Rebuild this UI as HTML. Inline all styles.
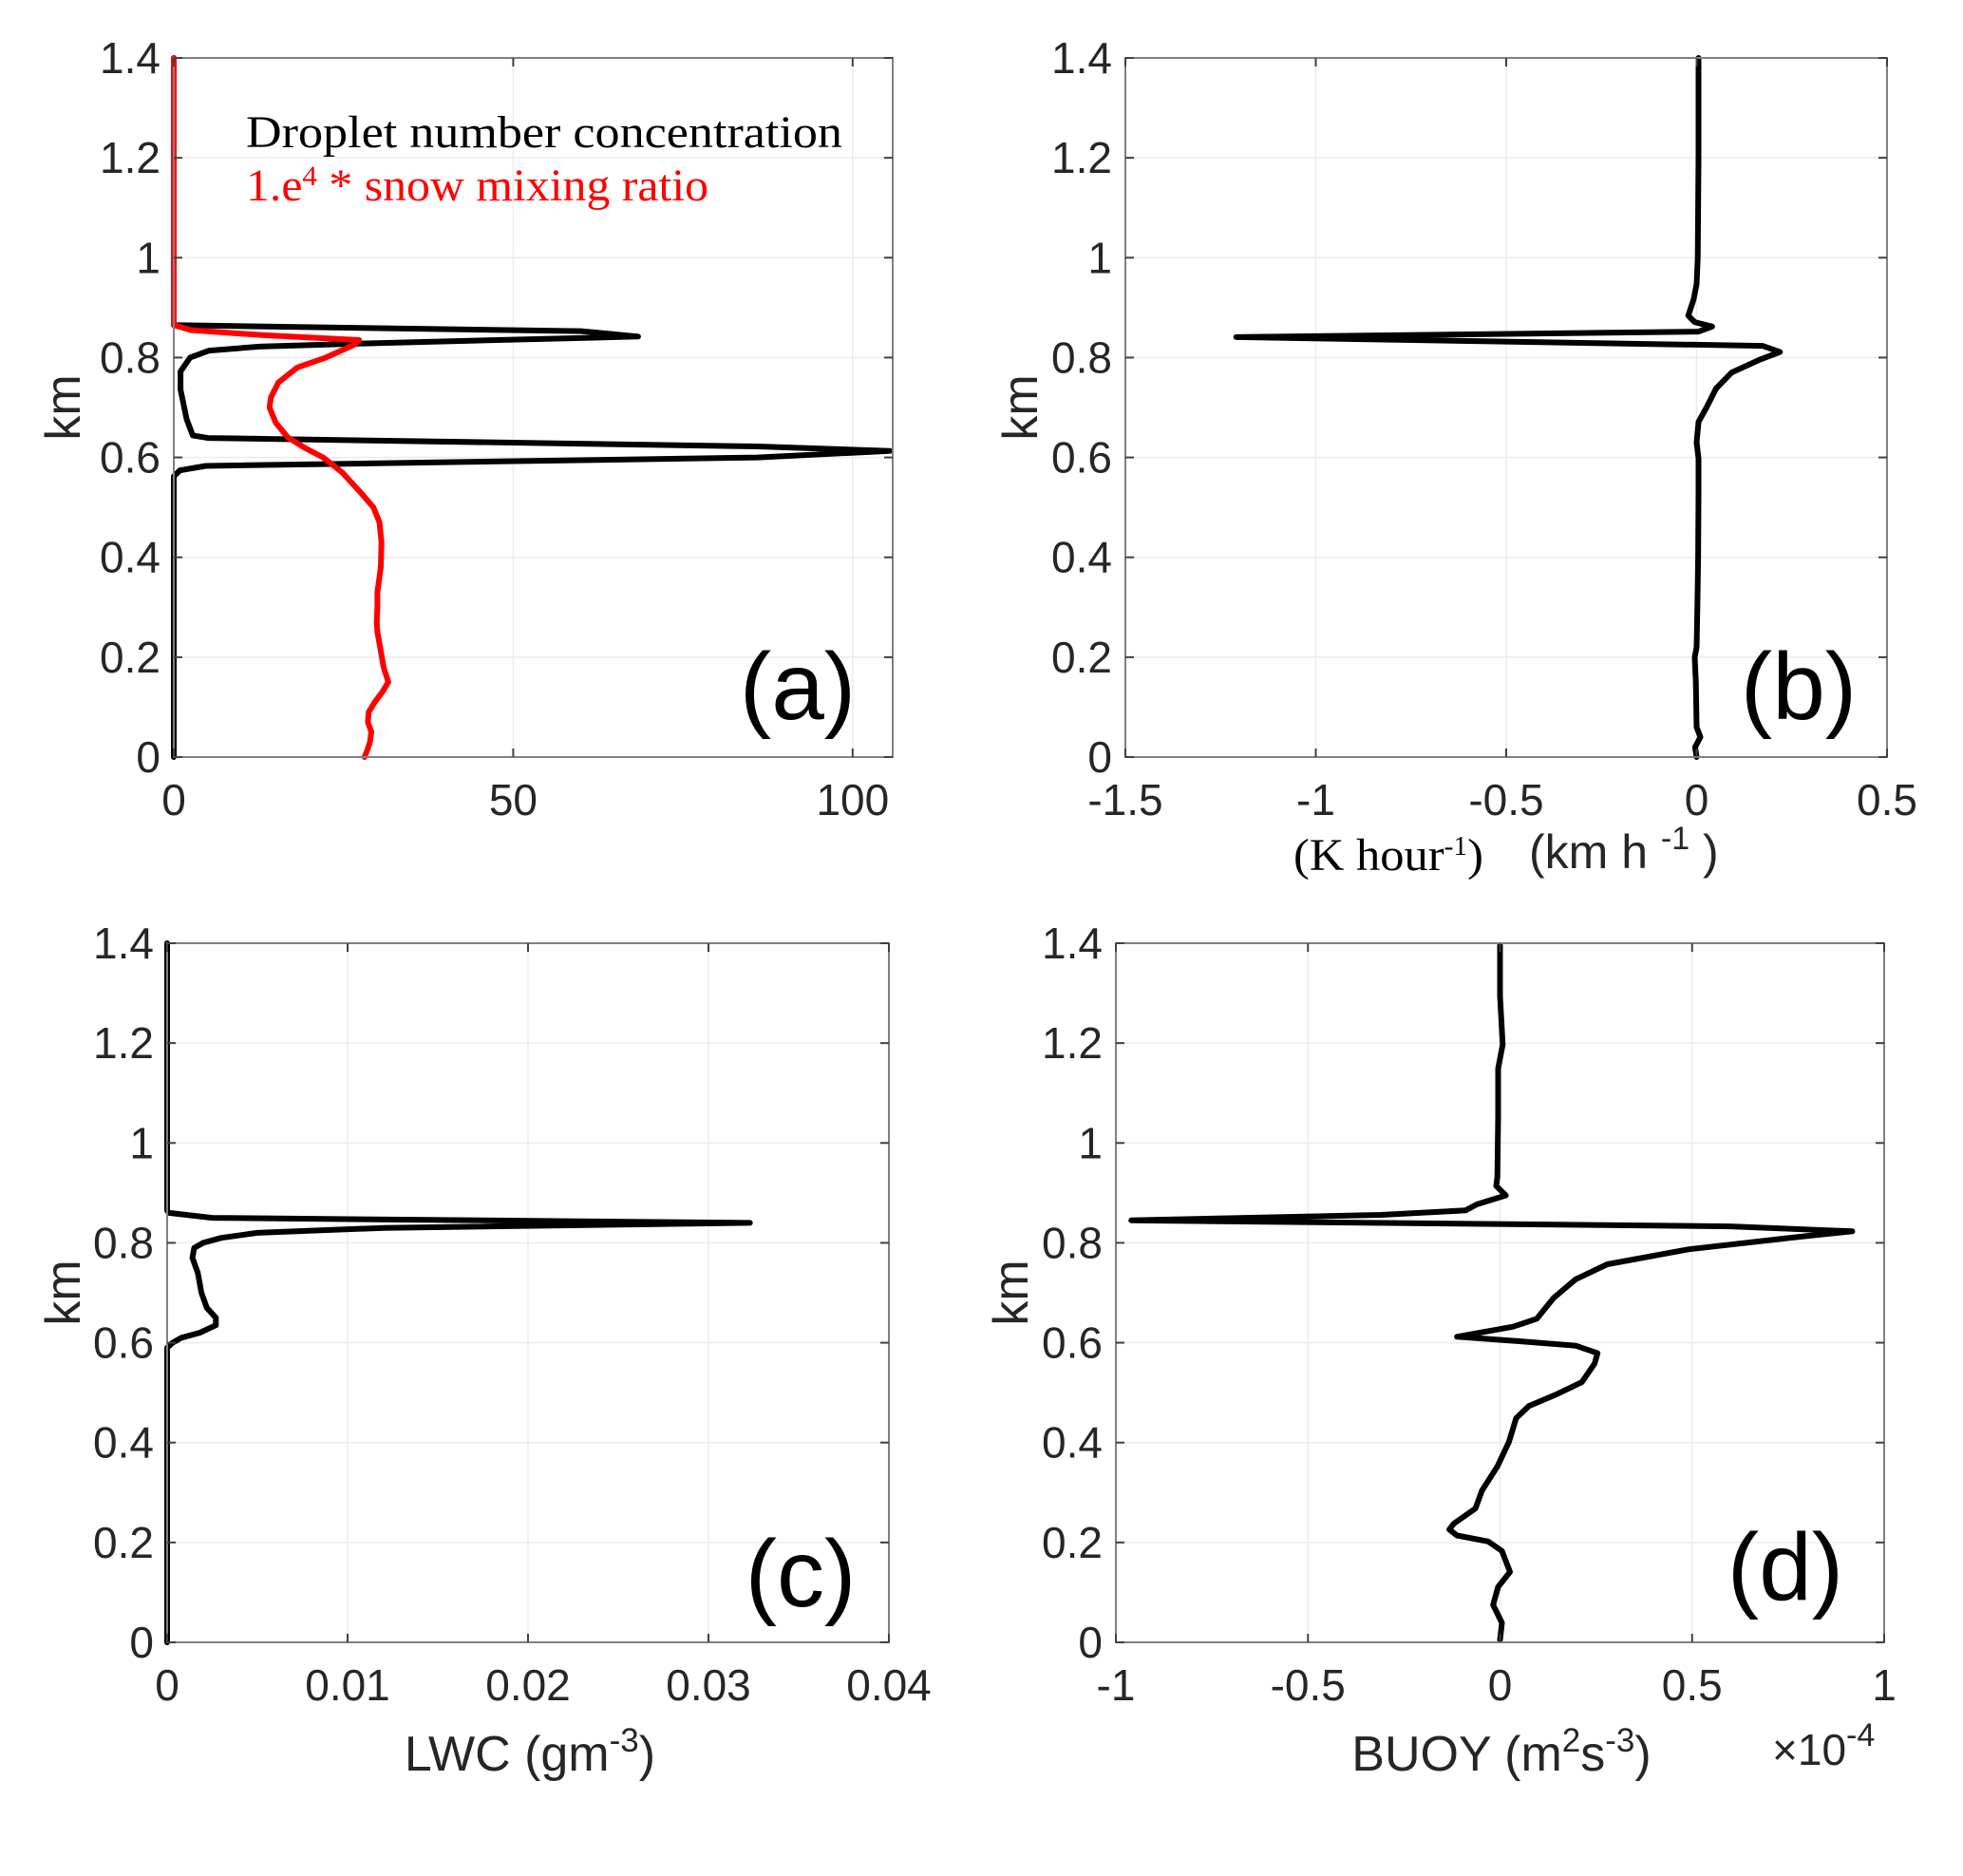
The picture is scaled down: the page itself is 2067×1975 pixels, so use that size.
<!DOCTYPE html>
<html><head><meta charset="utf-8"><style>
html,body{margin:0;padding:0;background:#fff;}
svg{display:block;}
text{font-family:"Liberation Sans",sans-serif;fill:#262626;}
.serif{font-family:"Liberation Serif",serif;}
</style></head><body>
<svg id="fig" width="2067" height="1975" viewBox="0 0 2067 1975" xmlns="http://www.w3.org/2000/svg"></svg>
<script>
// ---- Data ----
const yTicks = [0, 0.2, 0.4, 0.6, 0.8, 1, 1.2, 1.4];
const yTickLabels = ["0","0.2","0.4","0.6","0.8","1","1.2","1.4"];
// Panel a
const aXTicks = [0, 50, 100];
const aXTickLabels = ["0","50","100"];
const dropY = [1.4,0.865,0.853,0.842,0.829,0.822,0.814,0.80,0.772,0.736,0.676,0.644,0.639,0.622,0.613,0.60,0.583,0.574,0.562,0];
const dropX = [0,0,60,68.4,30,12.6,5.2,2.4,1,1,1.9,2.8,5,86,105.5,86,4.7,0.9,0,0];
const snowY = [1.4,0.865,0.855,0.845,0.835,0.825,0.80,0.78,0.75,0.72,0.70,0.67,0.64,0.62,0.60,0.57,0.53,0.50,0.47,0.43,0.38,0.33,0.30,0.27,0.25,0.22,0.18,0.15,0.13,0.11,0.09,0.07,0.05,0.03,0.01,0];
const snowX = [0,0,2.5,13,27.3,26.5,22.4,18.2,15.4,14.3,14.1,15,16.8,19.2,22,24.8,27.5,29.4,30.3,30.6,30.5,30,30,29.9,30,30.4,30.9,31.6,30.7,29.6,28.7,28.6,29.1,28.9,28.4,28.1];
// Panel b
const bXTicks = [-1.5,-1,-0.5,0,0.5];
const bXTickLabels = ["-1.5","-1","-0.5","0","0.5"];
const bY = [1.4,1.2,1.0,0.947,0.916,0.884,0.871,0.862,0.852,0.841,0.8235,0.811,0.795,0.770,0.738,0.70,0.671,0.630,0.598,0.528,0.4,0.3,0.22,0.2,0.15,0.06,0.04,0.02,0];
const bX = [0.005,0.005,0.003,0,-0.008,-0.022,-0.005,0.041,0.005,-1.209,0.173,0.219,0.163,0.092,0.051,0.026,0.005,0,0.005,0.005,0.004,0.002,0,-0.005,-0.002,0,0.01,-0.004,0];
// Panel c
const cXTicks = [0,0.01,0.02,0.03,0.04];
const cXTickLabels = ["0","0.01","0.02","0.03","0.04"];
const cY = [1.4,0.865,0.86,0.85,0.84,0.83,0.82,0.81,0.80,0.79,0.77,0.74,0.70,0.67,0.65,0.635,0.62,0.61,0.60,0.59,0];
const cX = [0,0,0.0001,0.0025,0.0323,0.012,0.005,0.003,0.002,0.0015,0.0014,0.0017,0.0019,0.0022,0.0027,0.0027,0.0018,0.0008,0.0003,0,0];
// Panel d
const dXTicks = [-1,-0.5,0,0.5,1];
const dXTickLabels = ["-1","-0.5","0","0.5","1"];
const dY = [1.396,1.294,1.197,1.149,1.052,0.932,0.914,0.895,0.877,0.865,0.856,0.845,0.833,0.823,0.811,0.787,0.757,0.727,0.690,0.648,0.632,0.612,0.603,0.594,0.579,0.558,0.521,0.497,0.473,0.449,0.401,0.352,0.304,0.268,0.238,0.226,0.214,0.202,0.183,0.141,0.111,0.075,0.039,0.005];
const dX = [0,0,0.007,-0.005,-0.005,-0.007,-0.01,0.015,-0.06,-0.09,-0.31,-0.96,0.6,0.917,0.767,0.49,0.279,0.197,0.14,0.096,0.034,-0.112,0.05,0.197,0.254,0.246,0.213,0.148,0.075,0.042,0.023,-0.007,-0.047,-0.064,-0.12,-0.132,-0.112,-0.031,0.005,0.026,-0.005,-0.018,0.005,0];

const NS = "http://www.w3.org/2000/svg";
const svg = document.getElementById('fig');
function mk(tag, attrs, parent){
  const e = document.createElementNS(NS, tag);
  for (const k in attrs) e.setAttribute(k, attrs[k]);
  (parent||svg).appendChild(e);
  return e;
}
function panel(id, L, R, T, B, xmin, xmax, xt, xtl, series, labelX){
  const g = mk('g', {});
  
  
  const sx = v => L + (v - xmin) / (xmax - xmin) * (R - L);
  const sy = v => B - v / 1.4 * (B - T);
  xt.forEach(v => { const x = sx(v); if (x > L+1 && x < R-1) { const l = mk('line',{x1:x,x2:x,y1:T,y2:B,stroke:'#ebebeb','stroke-width':1.5},g);   } });
  yTicks.forEach(v => { const y = sy(v); if (y > T+1 && y < B-1) { const l = mk('line',{x1:L,x2:R,y1:y,y2:y,stroke:'#ebebeb','stroke-width':1.5},g);   } });
  series.forEach(s => {
    const pts = s.x.map((v,i) => sx(v).toFixed(1) + ',' + sy(s.y[i]).toFixed(1)).join(' ');
    const p = mk('polyline',{points:pts,fill:'none',stroke:s.color,'stroke-width':6,'stroke-linejoin':'round','stroke-linecap':'round'},g);
    
    
  });
  const box = mk('rect',{x:L,y:T,width:R-L,height:B-T,fill:'none',stroke:'#808080','stroke-width':2},g);
  
  
  xt.forEach((v,i) => {
    const x = sx(v);
    mk('line',{x1:x,x2:x,y1:B,y2:B-9,stroke:'#404040','stroke-width':2},g);
    mk('line',{x1:x,x2:x,y1:T,y2:T+9,stroke:'#404040','stroke-width':2},g);
    const t = mk('text',{x:x,y:B+61,'font-size':46,'text-anchor':'middle'},g);
    t.textContent = xtl[i];
    
    
  });
  yTicks.forEach((v,i) => {
    const y = sy(v);
    mk('line',{x1:L,x2:L+9,y1:y,y2:y,stroke:'#404040','stroke-width':2},g);
    mk('line',{x1:R,x2:R-9,y1:y,y2:y,stroke:'#404040','stroke-width':2},g);
    const t = mk('text',{x:L-14,y:y+16,'font-size':46,'text-anchor':'end'},g);
    t.textContent = yTickLabels[i];
    
    
  });
  const km = mk('text',{x:labelX,y:(T+B)/2,'font-size':52,'text-anchor':'middle',transform:`rotate(-90 ${labelX} ${(T+B)/2})`},g);
  km.textContent = 'km';
  
  
  return g;
}
panel('a',183,940,61,797,0,105.9,aXTicks,aXTickLabels,[
  {x:dropX,y:dropY,color:'#000',name:'droplet-line'},
  {x:snowX,y:snowY,color:'#ff0000',name:'snow-line'}],84);
panel('b',1185,1987,61,797,-1.5,0.5,bXTicks,bXTickLabels,[{x:bX,y:bY,color:'#000',name:'heating-line'}],1092);
panel('c',176,936,993,1729,0,0.04,cXTicks,cXTickLabels,[{x:cX,y:cY,color:'#000',name:'lwc-line'}],84);
panel('d',1175,1984,993,1729,-1,1,dXTicks,dXTickLabels,[{x:dX,y:dY,color:'#000',name:'buoy-line'}],1082);
</script>
<svg style="position:absolute;left:0;top:0" width="2067" height="1975">
<text class="serif" x="259" y="155" font-size="48" textLength="628" lengthAdjust="spacingAndGlyphs" style="fill:#000">Droplet number concentration</text>
<text class="serif" x="259" y="211" font-size="48" textLength="487" lengthAdjust="spacingAndGlyphs" style="fill:#ff0000">1.e<tspan font-size="30" dy="-16">4</tspan><tspan dy="16"> * snow mixing ratio</tspan></text>
<text x="840" y="757" font-size="100" text-anchor="middle" style="fill:#000">(a)</text>
<text x="1894" y="757" font-size="100" text-anchor="middle" style="fill:#000">(b)</text>
<text x="843" y="1691" font-size="100" text-anchor="middle" style="fill:#000">(c)</text>
<text x="1880" y="1684" font-size="100" text-anchor="middle" style="fill:#000">(d)</text>
<text class="serif" x="1362" y="916" font-size="48" textLength="200" lengthAdjust="spacingAndGlyphs" style="fill:#000">(K hour<tspan font-size="28" dy="-16">-1</tspan><tspan dy="16">)</tspan></text>
<text x="1610" y="914" font-size="50">(km h <tspan font-size="34" dy="-20">-1</tspan><tspan dy="20"> )</tspan></text>
<text x="558" y="1864" font-size="52" text-anchor="middle">LWC (gm<tspan font-size="35" dy="-20">-3</tspan><tspan dy="20">)</tspan></text>
<text x="1581" y="1864" font-size="52" text-anchor="middle">BUOY (m<tspan font-size="35" dy="-20">2</tspan><tspan dy="20">s</tspan><tspan font-size="35" dy="-20">-3</tspan><tspan dy="20">)</tspan></text>
<text x="1866" y="1858" font-size="46">×10<tspan font-size="34" dy="-20">-4</tspan></text>
</svg>
</body></html>
